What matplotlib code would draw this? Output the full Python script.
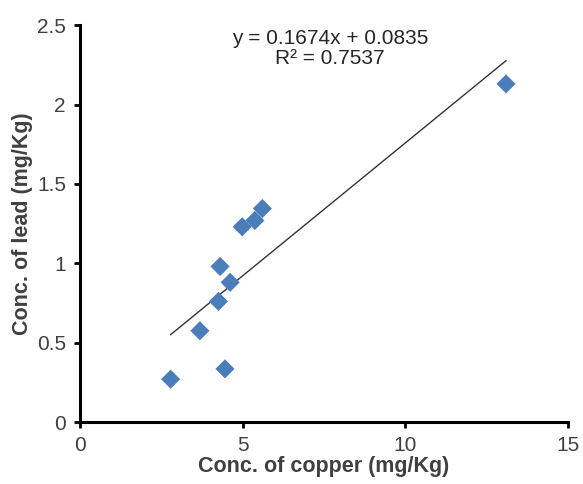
import matplotlib
matplotlib.use('Agg')
import matplotlib.pyplot as plt
import numpy as np

plt.rcParams['font.family'] = ['Liberation Sans', 'DejaVu Sans']

# copper vs lead concentrations (mg/Kg)
copper = [2.79, 3.69, 4.46, 4.26, 4.31, 4.62, 4.99, 5.38, 5.61, 13.1]
lead = [0.27, 0.575, 0.335, 0.76, 0.98, 0.88, 1.23, 1.27, 1.345, 2.13]

slope = 0.1674
intercept = 0.0835
r2 = 0.7537

fig = plt.figure(figsize=(5.83, 4.84), dpi=100)
ax = fig.add_axes([0.137, 0.128, 0.837, 0.82])

xs = np.array([min(copper), max(copper)])
ax.plot(xs, slope * xs + intercept, color='#333333', lw=1.0, zorder=2)
ax.scatter(copper, lead, marker='D', s=95, color='#4a7ebb', edgecolors='none', zorder=3)

ax.text(0.512, 0.99, f'y = {slope}x + {intercept}\nR² = {r2}',
        transform=ax.transAxes, ha='center', va='top', fontsize=15,
        color='#262626', linespacing=1.05)

ax.set_xlim(0, 15)
ax.set_ylim(0, 2.5)
ax.set_xticks([0, 5, 10, 15])
ax.set_yticks([0, 0.5, 1, 1.5, 2, 2.5])
ax.set_yticklabels(['0', '0.5', '1', '1.5', '2', '2.5'])

for s in ['top', 'right']:
    ax.spines[s].set_visible(False)
for s in ['left', 'bottom']:
    ax.spines[s].set_linewidth(2.2)
    ax.spines[s].set_color('black')

ax.tick_params(axis='both', direction='out', length=4, width=2, color='black',
               labelsize=15, labelcolor='#404040', pad=6)

ax.set_xlabel('Conc. of copper (mg/Kg)', fontsize=15.5, fontweight='bold', color='#404040', labelpad=1)
ax.set_ylabel('Conc. of lead (mg/Kg)', fontsize=15.5, fontweight='bold', color='#404040', labelpad=3)

fig.savefig('out.png', dpi=100)
